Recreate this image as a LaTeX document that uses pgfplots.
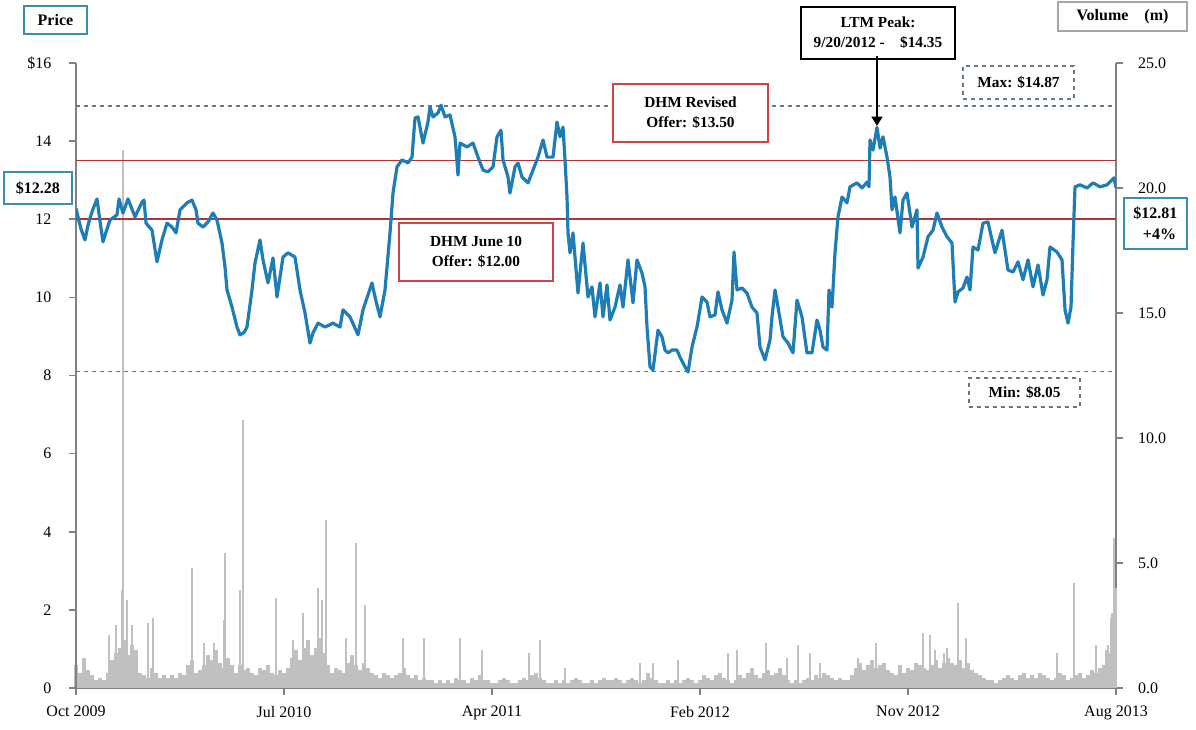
\documentclass[border=0pt]{standalone}
\usepackage{pgfplots}
\pgfplotsset{compat=1.18}
\usepackage{fontspec}
\setmainfont{Liberation Serif}
\usetikzlibrary{arrows.meta}
\definecolor{pline}{RGB}{30,125,180}
\definecolor{pbox}{RGB}{60,140,180}
\definecolor{redl}{RGB}{180,50,50}
\definecolor{redb}{RGB}{200,70,70}
\definecolor{dashc}{RGB}{95,120,140}
\definecolor{volg}{RGB}{192,192,192}
\definecolor{axg}{RGB}{128,128,128}
\begin{document}
\begin{tikzpicture}
\useasboundingbox (0,0) rectangle (897pt,547.5pt);
\begin{axis}[
  at={(57pt,31.5pt)}, anchor=south west,
  scale only axis, width=780pt, height=468.75pt,
  xmin=0, xmax=1040, ymin=0, ymax=25,
  axis x line*=bottom, axis y line*=right,
  axis line style={axg, line width=1.5pt},
  tick style={axg, line width=1.2pt},
  major tick length=5pt, tick align=outside,
  xtick={0,208,416,624,832,1040},
  xticklabels={Oct 2009, Jul 2010, Apr 2011, Feb 2012, Nov 2012, Aug 2013},
  ytick={0,5,10,15,20,25},
  yticklabels={0.0,5.0,10.0,15.0,20.0,25.0},
  ticklabel style={font=\fontsize{12}{14}\selectfont},
  xticklabel style={yshift=-5pt},
  yticklabel style={xshift=8pt},
  clip=false,
]
\addplot[ycomb, draw=volg, line width=3.1pt, mark=none] coordinates {
(0,0.9)(4,0.6)(8,1.2)(12,0.7)(16,0.5)(20,0.3)(24,0.4)(28,0.3)(32,0.6)(36,1.1)
(40,1.4)(44,1.6)(48,1.9)(52,1.3)(56,1.7)(60,1.5)(64,0.6)(68,0.5)(72,0.4)(76,0.8)
(80,0.6)(84,0.4)(88,0.5)(92,0.4)(96,0.5)(100,0.4)(104,0.6)(108,0.5)(112,0.9)(116,1.1)
(120,0.6)(124,0.7)(128,0.9)(132,1.3)(136,1.1)(140,1.5)(144,1.0)(148,0.8)(152,1.2)(156,0.9)
(160,0.6)(164,0.9)(168,0.7)(172,0.8)(176,0.6)(180,0.5)(184,0.8)(188,0.7)(192,0.9)(196,0.6)
(200,0.5)(204,0.7)(208,0.6)(212,0.8)(216,1.2)(220,1.5)(224,1.1)(228,1.6)(232,1.9)(236,1.3)
(240,1.6)(244,2.0)(248,1.4)(252,0.9)(256,0.6)(260,0.8)(264,0.7)(268,0.6)(272,1.0)(276,1.3)
(280,0.9)(284,0.7)(288,1.0)(292,0.8)(296,0.6)(300,0.5)(304,0.4)(308,0.6)(312,0.5)(316,0.4)
(320,0.5)(324,0.6)(328,0.8)(332,0.5)(336,0.4)(340,0.5)(344,0.3)(348,0.4)(352,0.3)(356,0.3)
(360,0.2)(364,0.3)(368,0.2)(372,0.3)(376,0.2)(380,0.4)(384,0.3)(388,0.3)(392,0.2)(396,0.4)
(400,0.3)(404,0.5)(408,0.3)(412,0.3)(416,0.2)(420,0.2)(424,0.3)(428,0.4)(432,0.3)(436,0.2)
(440,0.2)(444,0.3)(448,0.4)(452,0.3)(456,0.5)(460,0.6)(464,0.4)(468,0.3)(472,0.2)(476,0.2)
(480,0.3)(484,0.2)(488,0.3)(492,0.2)(496,0.3)(500,0.4)(504,0.3)(508,0.2)(512,0.2)(516,0.3)
(520,0.2)(524,0.3)(528,0.4)(532,0.3)(536,0.3)(540,0.4)(544,0.3)(548,0.2)(552,0.3)(556,0.4)
(560,0.3)(564,0.2)(568,0.3)(572,0.6)(576,0.4)(580,0.3)(584,0.2)(588,0.2)(592,0.3)(596,0.2)
(600,0.3)(604,0.2)(608,0.3)(612,0.4)(616,0.3)(620,0.2)(624,0.3)(628,0.5)(632,0.4)(636,0.3)
(640,0.5)(644,0.6)(648,0.4)(652,0.3)(656,0.2)(660,0.3)(664,0.5)(668,0.4)(672,0.6)(676,0.8)
(680,0.5)(684,0.4)(688,0.6)(692,0.7)(696,0.5)(700,0.6)(704,0.8)(708,0.5)(712,0.3)(716,0.2)
(720,0.3)(724,0.2)(728,0.3)(732,0.4)(736,0.3)(740,0.5)(744,0.4)(748,0.6)(752,0.5)(756,0.4)
(760,0.3)(764,0.4)(768,0.3)(772,0.3)(776,0.5)(780,0.8)(784,1.0)(788,0.7)(792,0.9)(796,1.1)
(800,0.8)(804,0.9)(808,1.0)(812,0.7)(816,0.6)(820,0.5)(824,0.9)(828,0.6)(832,0.8)(836,0.7)
(840,1.0)(844,0.9)(848,0.8)(852,0.7)(856,0.9)(860,1.1)(864,0.8)(868,1.0)(872,1.2)(876,1.0)
(880,0.9)(884,1.1)(888,0.8)(892,1.0)(896,0.7)(900,0.6)(904,0.5)(908,0.4)(912,0.3)(916,0.3)
(920,0.2)(924,0.3)(928,0.4)(932,0.5)(936,0.4)(940,0.3)(944,0.5)(948,0.6)(952,0.4)(956,0.5)
(960,0.4)(964,0.6)(968,0.5)(972,0.4)(976,0.3)(980,0.4)(984,0.6)(988,0.5)(992,0.3)(996,0.4)
(1000,0.5)(1004,0.6)(1008,0.4)(1012,0.5)(1016,0.7)(1020,0.6)(1024,0.8)(1028,0.9)(1032,1.4)(1036,2.8)
(1039,4.0)
};
\addplot[ycomb, draw=volg, line width=1pt, mark=none] coordinates {
(33,2.1)(40,2.5)(46,3.9)(47,21.5)(51,3.5)(56,2.5)(72,2.6)(77,2.8)(116,4.8)(128,1.8)
(138,1.8)(148,2.7)(149,5.4)(164,3.9)(167,10.7)(200,3.6)(217,1.9)(227,3.0)(242,4.0)(246,3.5)
(250,6.7)(270,2.0)(280,5.8)(289,3.3)(327,2.0)(348,2.0)(384,2.0)(406,1.5)(453,1.4)(464,1.9)
(489,0.8)(564,1.0)(577,1.0)(602,1.1)(652,1.4)(661,1.5)(690,1.8)(711,1.2)(722,1.7)(734,1.4)
(744,1.0)(782,1.2)(800,1.8)(847,2.2)(854,2.1)(859,1.5)(868,1.4)(871,1.6)(882,3.4)(890,2.0)
(981,1.4)(998,4.2)(1020,1.7)(1030,1.5)(1032,1.7)(1036,3.0)(1038,6.0)
};
\end{axis}
\begin{axis}[
  at={(57pt,31.5pt)}, anchor=south west,
  scale only axis, width=780pt, height=468.75pt,
  xmin=0, xmax=1040, ymin=0, ymax=16,
  axis x line=none, axis y line*=left,
  axis line style={axg, line width=1.5pt},
  tick style={axg, line width=1.2pt},
  major tick length=5pt, tick align=outside,
  ytick={0,2,4,6,8,10,12,14,16},
  yticklabels={0,2,4,6,8,10,12,14,\$16},
  ticklabel style={font=\fontsize{12}{14}\selectfont},
  yticklabel style={xshift=-10pt},
]
\addplot[dashc, dashed, line width=1pt, mark=none] coordinates {(0,14.9)(1040,14.9)};
\addplot[dashc, dashed, line width=1pt, mark=none] coordinates {(0,8.1)(1040,8.1)};
\addplot[redl, line width=1.2pt, mark=none] coordinates {(0,13.5)(1040,13.5)};
\addplot[redl, line width=1.2pt, mark=none] coordinates {(0,12.0)(1040,12.0)};
\addplot[pline, line width=2.4pt, mark=none, line join=round] coordinates {
(0,12.28)(2,12.06)(5,11.75)(9,11.47)(12,11.85)(16,12.19)(21,12.52)(24,11.95)(27,11.42)(31,11.75)
(34,11.98)(41,12.11)(43,12.52)(47,12.16)(52,12.52)(59,12.06)(66,12.44)(68,12.49)(70,11.90)(76,11.72)
(81,10.91)(86,11.47)(91,11.90)(96,11.80)(100,11.65)(104,12.24)(111,12.42)(116,12.49)(120,12.24)(122,11.90)
(127,11.80)(132,11.93)(137,12.16)(141,11.98)(146,11.39)(149,10.78)(151,10.19)(156,9.75)(161,9.24)(164,9.04)
(168,9.10)(171,9.24)(176,10.19)(179,10.88)(184,11.47)(187,10.96)(192,10.37)(197,11.01)(201,10.01)(207,11.03)
(212,11.14)(219,11.03)(224,10.19)(229,9.60)(234,8.83)(237,9.09)(242,9.34)(249,9.24)(257,9.34)(264,9.24)
(267,9.68)(274,9.50)(282,9.04)(287,9.68)(296,10.37)(299,10.01)(304,9.50)(309,10.19)(314,11.65)(317,12.67)
(321,13.34)(326,13.52)(332,13.44)(336,13.59)(339,14.59)(342,14.62)(347,13.95)(352,14.49)(354,14.87)(357,14.62)
(362,14.72)(365,14.92)(369,14.62)(374,14.67)(379,14.11)(382,13.13)(384,13.95)(391,13.85)(397,13.95)(402,13.59)
(407,13.26)(412,13.21)(417,13.34)(421,14.11)(425,14.28)(427,13.52)(432,13.08)(434,12.67)(439,13.34)(442,13.44)
(446,13.08)(452,12.93)(457,13.26)(462,13.59)(467,14.03)(471,13.59)(477,13.59)(481,14.49)(484,14.11)(487,14.36)
(489,13.52)(491,12.57)(492,11.65)(494,11.14)(497,11.65)(502,10.11)(507,11.39)(512,10.01)(516,10.27)(519,9.50)
(524,10.37)(527,9.50)(531,10.32)(534,9.42)(539,9.75)(544,10.32)(547,9.75)(552,10.96)(557,9.86)(561,10.96)
(566,10.62)(569,10.27)(571,9.24)(574,8.22)(577,8.14)(582,9.16)(586,8.99)(589,8.65)(592,8.58)(596,8.65)
(601,8.65)(604,8.47)(609,8.22)(612,8.09)(616,8.73)(621,9.24)(626,10.01)(631,9.88)(634,9.50)(639,9.55)
(642,10.14)(646,9.68)(651,9.34)(656,9.93)(658,11.16)(661,10.19)(666,10.24)(671,10.11)(676,9.75)(681,9.60)
(684,8.73)(689,8.40)(694,8.91)(696,9.50)(699,10.19)(702,9.75)(707,8.99)(712,8.83)(717,8.58)(721,9.93)
(726,9.50)(731,8.58)(736,8.58)(741,9.42)(744,9.16)(747,8.73)(751,8.65)(753,10.19)(756,9.75)(759,11.14)
(762,12.06)(766,12.57)(771,12.42)(774,12.83)(781,12.93)(786,12.80)(791,12.95)(793,12.83)(794,14.03)(797,13.77)
(801,14.35)(804,13.82)(807,14.11)(811,13.59)(814,13.08)(816,12.24)(819,12.57)(824,11.65)(827,12.49)(831,12.67)
(836,11.80)(841,12.24)(842,10.75)(847,11.03)(852,11.55)(857,11.72)(861,12.16)(866,11.80)(871,11.55)(876,11.39)
(879,9.88)(882,10.14)(887,10.24)(891,10.52)(894,10.19)(897,11.29)(902,11.21)(907,11.90)(912,11.93)(916,11.47)
(919,11.14)(926,11.72)(929,11.21)(932,10.70)(937,10.65)(942,10.91)(947,10.45)(952,10.96)(957,10.27)(962,10.83)
(967,10.06)(971,10.45)(974,11.29)(981,11.16)(986,10.96)(989,9.68)(992,9.34)(995,9.75)(997,11.39)(999,12.83)
(1004,12.88)(1011,12.80)(1017,12.93)(1024,12.83)(1031,12.88)(1038,13.06)(1040,12.81)
};
\end{axis}
% annotation boxes (positions in picture space)
\tikzset{ann/.style={fill=white, align=center, inner sep=0pt,
  font=\fontsize{11.5}{15}\selectfont\bfseries}}
\node[ann, draw=pbox, line width=1.6pt, minimum width=47pt, minimum height=21pt, font=\fontsize{12}{14}\selectfont\bfseries] at (41.6pt,532.5pt) {Price};
\node[ann, draw=pbox, line width=1pt, minimum width=51pt, minimum height=24pt, font=\fontsize{12}{14}\selectfont\bfseries] at (28.5pt,406.5pt) {\$12.28};
\node[ann, draw=redb, line width=1.1pt, minimum width=116.25pt, minimum height=43.5pt] at (517.9pt,462.75pt) {DHM Revised\\Offer: \$13.50};
\node[ann, draw=redb, line width=1.1pt, minimum width=115.5pt, minimum height=43.5pt] at (357pt,358.5pt) {DHM June 10\\Offer: \$12.00};
\node[ann, draw=black, line width=1.4pt, minimum width=115.5pt, minimum height=39pt] at (658.5pt,522.75pt) {LTM Peak:\\9/20/2012 -\quad\$14.35};
\node[ann, draw=black!35, line width=2pt, minimum width=96.75pt, minimum height=21.75pt, font=\fontsize{12}{14}\selectfont\bfseries] at (841.9pt,535.1pt) {Volume\quad(m)};
\node[ann, draw=dashc, dashed, line width=1pt, minimum width=83.25pt, minimum height=24.75pt] at (763.9pt,485.6pt) {Max: \$14.87};
\node[ann, draw=pbox, line width=1pt, minimum width=47.25pt, minimum height=38.25pt, font=\fontsize{12}{16}\selectfont\bfseries] at (866.6pt,379.9pt) {\$12.81\\\ \ +4\%};
\node[ann, draw=dashc, dashed, line width=1.2pt, minimum width=83.25pt, minimum height=21.75pt] at (768.4pt,253.1pt) {Min: \$8.05};
\draw[black, line width=2.2pt, -{Triangle[length=7pt,width=8pt]}] (657.75pt,505.5pt) -- (657.75pt,453pt);
\end{tikzpicture}
\end{document}
